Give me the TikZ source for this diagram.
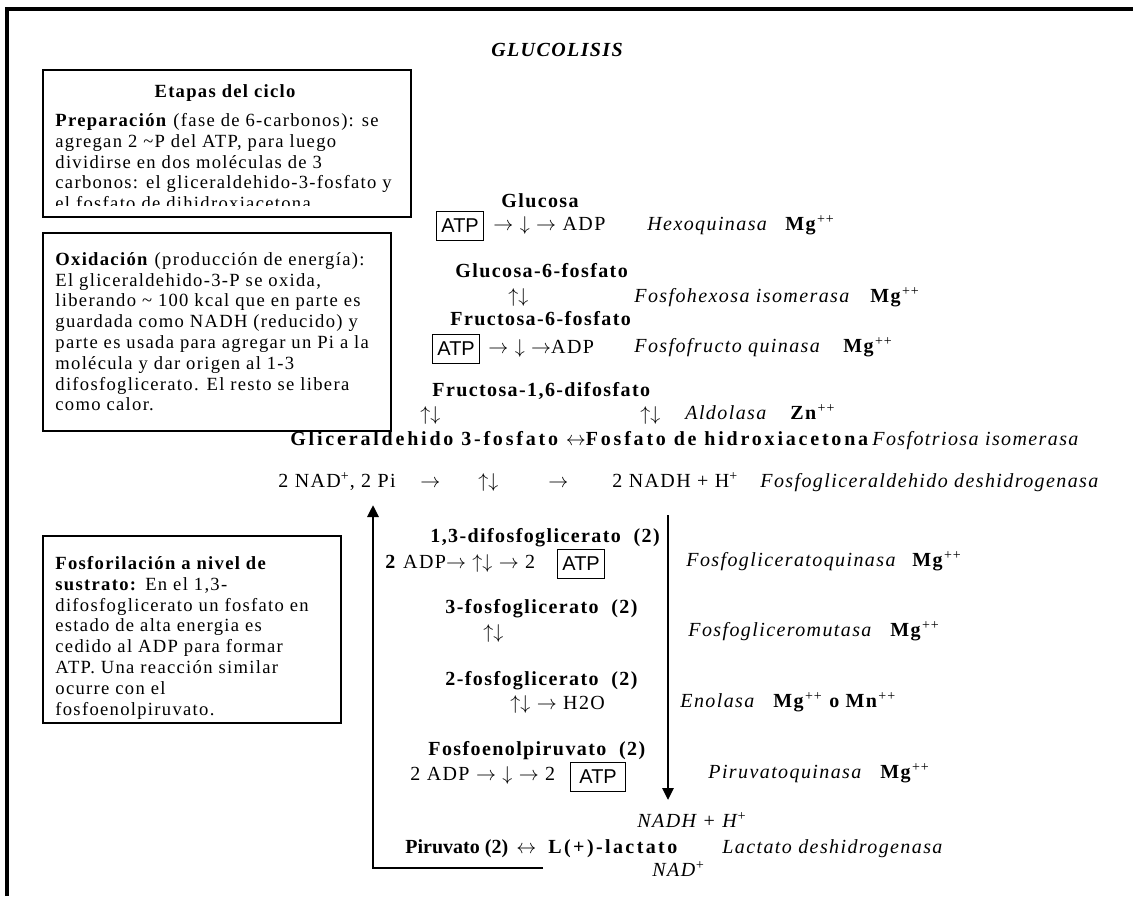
\documentclass[tikz,border=0pt]{standalone}
\usepackage{fontspec}
\setmainfont{Liberation Serif}[LetterSpace=7]
\setsansfont{Liberation Sans}
\usetikzlibrary{arrows.meta}
\tikzset{
  flecha/.style={-{Triangle[width=5.5pt,length=6pt]}, line width=1.4pt},
  marco/.style={line width=1.6pt},
  caja/.style={draw, line width=0.8pt, anchor=north west, inner sep=0pt},
  texto/.style={anchor=north west, inner sep=0pt, align=left, font=\fontsize{9.3}{10.4}\selectfont},
  paso/.style={anchor=mid west, inner sep=0pt, font=\fontsize{10}{12}\selectfont\bfseries},
  enzima/.style={anchor=mid west, inner sep=0pt, font=\fontsize{10}{12}\selectfont\itshape},
  normal/.style={anchor=mid west, inner sep=0pt, font=\fontsize{10}{12}\selectfont},
  atp/.style={draw, line width=0.6pt, anchor=west, inner sep=0pt, minimum width=23.5pt, minimum height=14.5pt, font=\sffamily\fontsize{10}{12}\selectfont}
}
\newcommand{\ionmg}{\textbf{Mg}\textsuperscript{++}}
\newcommand{\flder}{\ensuremath{\rightarrow}}
\newcommand{\flaba}{\ensuremath{\downarrow}}
\newcommand{\flrev}{\ensuremath{\uparrow\downarrow}}
\newcommand{\flbid}{\ensuremath{\leftrightarrow}}

\begin{document}
\begin{tikzpicture}[x=0.5pt, y=-0.5pt]
  \useasboundingbox (0,0) rectangle (1133,896);
  % marco exterior
  \draw[marco] (7,896) -- (7,9) -- (1133,9);
  \node[font=\fontsize{10}{12}\selectfont\bfseries\itshape] (titulo) at (557,50) {GLUCOLISIS};

  % cuadros de texto
  \node[caja, minimum width=184pt, minimum height=73.5pt] (etapas) at (42,69) {};
  \node[font=\fontsize{9.3}{10.4}\selectfont\bfseries] (etapastit) at (225,93) {Etapas del ciclo};
  \begin{scope}
    \clip (42,69) rectangle (410,205);
    \node[texto] (preparacion) at (55,113) {\textbf{Preparación} (fase de 6-carbonos): se\\
      agregan 2 \textasciitilde P del ATP, para luego\\
      dividirse en dos moléculas de 3\\
      carbonos: el gliceraldehido-3-fosfato y\\
      el fosfato de dihidroxiacetona};
  \end{scope}

  \node[caja, minimum width=174pt, minimum height=99pt] (oxcaja) at (42,232) {};
  \node[texto] (oxidacion) at (55,252) {\textbf{Oxidación} (producción de energía):\\
    El gliceraldehido-3-P se oxida,\\
    liberando \textasciitilde{} 100 kcal que en parte es\\
    guardada como NADH (reducido) y\\
    parte es usada para agregar un Pi a la\\
    molécula y dar origen al 1-3\\
    difosfoglicerato. El resto se libera\\
    como calor.};

  \node[caja, minimum width=149pt, minimum height=93.5pt] (fosfcaja) at (42,535) {};
  \node[texto] (fosforilacion) at (55,556) {\textbf{Fosforilación a nivel de}\\
    \textbf{sustrato:} En el 1,3-\\
    difosfoglicerato un fosfato en\\
    estado de alta energia es\\
    cedido al ADP para formar\\
    ATP. Una reacción similar\\
    ocurre con el\\
    fosfoenolpiruvato.};

  % fase de 6 carbonos
  \node[paso, anchor=mid] (glucosa) at (540,203) {Glucosa};
  \node[atp] (atpA) at (436,226) {ATP};
  \node[normal] (reacA) at (493,226) {\flder{} \flaba{} \flder{} ADP};
  \node[enzima] (hexo) at (647,226) {Hexoquinasa};
  \node[normal] (ionA) at (785,226) {\ionmg};
  \node[paso] (g6p) at (455,273) {Glucosa-6-fosfato};
  \node[normal] (flA) at (508,298) {\flrev};
  \node[enzima] (isoA) at (634,298) {Fosfohexosa isomerasa};
  \node[normal] (ionB) at (870,298) {\ionmg};
  \node[paso] (f6p) at (450,321) {Fructosa-6-fosfato};
  \node[atp] (atpB) at (432,349) {ATP};
  \node[normal] (reacB) at (488,349) {\flder{} \flaba{} \flder ADP};
  \node[enzima] (pfk) at (634,348) {Fosfofructo quinasa};
  \node[normal] (ionC) at (843,348) {\ionmg};
  \node[paso] (f16) at (432,392) {Fructosa-1,6-difosfato};
  \node[normal] (flB) at (420,416) {\flrev};
  \node[normal] (flC) at (640,416) {\flrev};
  \node[enzima] (aldolasa) at (685,415) {Aldolasa};
  \node[normal] (ionD) at (790,415) {\textbf{Zn}\textsuperscript{++}};

  % fase de 3 carbonos
  \node[paso, font=\fontsize{10}{12}\selectfont\bfseries\addfontfeature{LetterSpace=14}] (triosas) at (290,441) {Gliceraldehido 3-fosfato \flbid Fosfato de hidroxiacetona};
  \node[enzima] (tim) at (872,441) {Fosfotriosa isomerasa};
  \node[normal] (nadA) at (278,483) {2 NAD\textsuperscript{+}, 2 Pi};
  \node[normal] (flD) at (420,483) {\flder};
  \node[normal] (flE) at (478,483) {\flrev};
  \node[normal] (flF) at (548,483) {\flder};
  \node[normal] (nadhA) at (612,483) {2 NADH + H\textsuperscript{+}};
  \node[enzima] (gapdh) at (760,483) {Fosfogliceraldehido deshidrogenasa};

  \node[paso] (bpg) at (430,538) {1,3-difosfoglicerato~~(2)};
  \node[normal] (reacC) at (385,564) {\textbf{2} ADP\flder{} \flrev{} \flder{} 2};
  \node[atp] (atpC) at (557,564) {ATP};
  \node[enzima] (pgk) at (686,562) {Fosfogliceratoquinasa};
  \node[normal] (ionG) at (912,562) {\ionmg};
  \node[paso] (pg3) at (445,609) {3-fosfoglicerato~~(2)};
  \node[normal] (flG) at (483,634) {\flrev};
  \node[enzima] (pgm) at (688,632) {Fosfogliceromutasa};
  \node[normal] (ionH) at (890,632) {\ionmg};
  \node[paso] (pg2) at (445,681) {2-fosfoglicerato~~(2)};
  \node[normal] (reacD) at (510,705) {\flrev{} \flder{} H2O};
  \node[enzima] (enolasa) at (680,703) {Enolasa};
  \node[normal] (ionI) at (773,703) {\ionmg{} \textbf{o Mn}\textsuperscript{++}};
  \node[paso] (pep) at (428,751) {Fosfoenolpiruvato~~(2)};
  \node[normal] (reacE) at (410,776) {2 ADP \flder{} \flaba{} \flder{} 2};
  \node[atp, minimum width=27.5pt] (atpD) at (570,777) {ATP};
  \node[enzima] (pk) at (708,774) {Piruvatoquinasa};
  \node[normal] (ionJ) at (880,774) {\ionmg};

  % fermentacion
  \node[enzima] (nadhB) at (637,823) {NADH + H\textsuperscript{+}};
  \node[paso, font=\fontsize{10}{12}\selectfont\bfseries\addfontfeature{LetterSpace=0}] (piruvato) at (405,849) {Piruvato (2)};
  \node[normal] (flH) at (516,849) {\flbid};
  \node[paso, font=\fontsize{10}{12}\selectfont\bfseries\addfontfeature{LetterSpace=12}] (lactato) at (548,849) {L(+)-lactato};
  \node[enzima] (ldh) at (722,849) {Lactato deshidrogenasa};
  \node[enzima] (nadB) at (652,872) {NAD\textsuperscript{+}};

  % flechas largas
  \coordinate (bajaA) at (668,515);
  \coordinate (bajaB) at (668,800);
  \draw[flecha] (bajaA) -- (bajaB);
  \coordinate (vueltaA) at (543,868);
  \coordinate (vueltaB) at (373,505);
  \draw[flecha] (vueltaA) -| (vueltaB);
\end{tikzpicture}
\end{document}
